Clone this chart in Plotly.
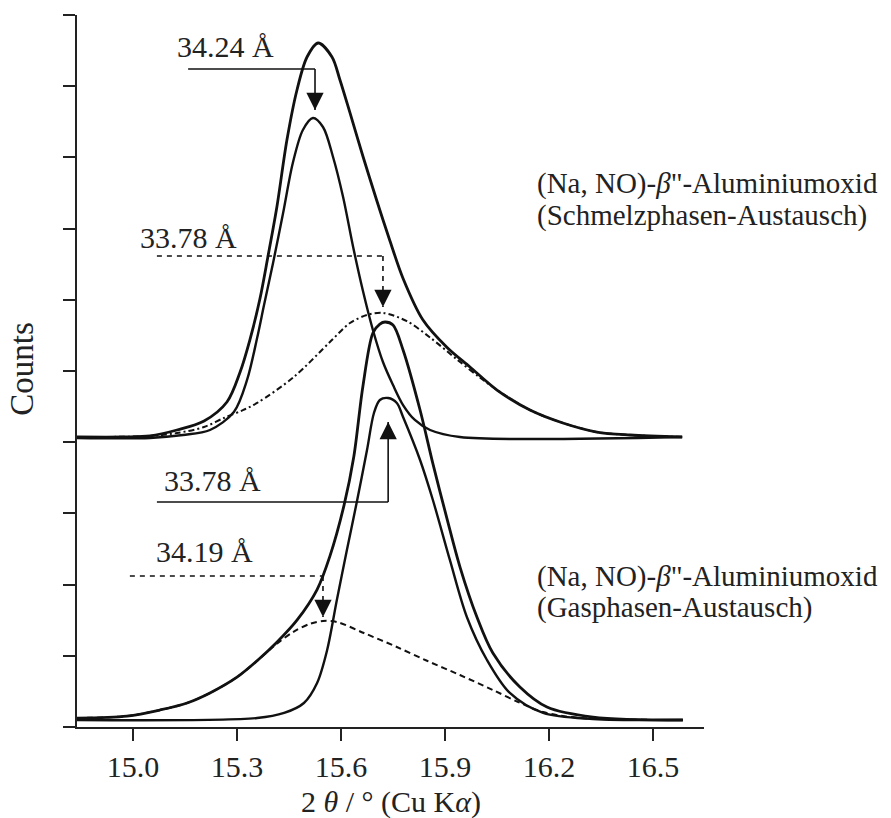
import plotly.graph_objects as go

# ---------------- data ----------------
# 2θ in degrees, counts in arbitrary units (one y tick = 1 unit)

# Upper pattern: (Na, NO)-β"-Aluminiumoxid (Schmelzphasen-Austausch)
up_env_x = [14.838, 14.974, 15.049, 15.127, 15.205, 15.271, 15.309, 15.337, 15.366, 15.389,
            15.415, 15.444, 15.473, 15.502, 15.534, 15.574, 15.597, 15.626, 15.663, 15.704,
            15.741, 15.779, 15.836, 15.906, 15.972, 16.050, 16.145, 16.240, 16.338, 16.434, 16.584]
up_env_y = [4.073, 4.073, 4.087, 4.171, 4.298, 4.565, 4.986, 5.435, 6.011, 6.601,
            7.303, 8.244, 8.947, 9.410, 9.607, 9.410, 9.087, 8.624, 8.020, 7.380,
            6.830, 6.300, 5.720, 5.330, 5.056, 4.733, 4.452, 4.270, 4.143, 4.101, 4.073]

up_main_x = [14.838, 15.049, 15.144, 15.222, 15.291, 15.329, 15.358, 15.378, 15.404, 15.433,
             15.461, 15.490, 15.519, 15.548, 15.577, 15.606, 15.635, 15.663, 15.692, 15.721,
             15.750, 15.779, 15.813, 15.857, 15.943, 16.584]
up_main_y = [4.059, 4.059, 4.101, 4.171, 4.424, 4.874, 5.463, 5.927, 6.517, 7.219,
             7.921, 8.385, 8.553, 8.427, 8.006, 7.444, 6.742, 6.130, 5.576, 5.126,
             4.803, 4.522, 4.312, 4.171, 4.073, 4.073]

up_broad_x = [14.838, 15.049, 15.127, 15.205, 15.262, 15.317, 15.358, 15.464, 15.568, 15.626,
              15.675, 15.721, 15.790, 15.857, 15.935, 16.000, 16.050, 16.145, 16.240, 16.338,
              16.434, 16.584]
up_broad_y = [4.073, 4.087, 4.129, 4.213, 4.340, 4.450, 4.551, 4.916, 5.407, 5.674,
              5.787, 5.815, 5.700, 5.470, 5.160, 4.910, 4.733, 4.452, 4.270, 4.143,
              4.101, 4.073]

# Lower pattern: (Na, NO)-β"-Aluminiumoxid (Gasphasen-Austausch)
lo_env_x = [14.838, 14.983, 15.078, 15.156, 15.222, 15.300, 15.358, 15.415, 15.473, 15.531,
            15.568, 15.609, 15.637, 15.663, 15.692, 15.712, 15.727, 15.750, 15.779, 15.828,
            15.865, 15.906, 15.943, 15.992, 16.038, 16.116, 16.194, 16.327, 16.586]
lo_env_y = [0.126, 0.154, 0.239, 0.337, 0.478, 0.700, 0.930, 1.190, 1.500, 1.930,
            2.400, 3.120, 3.800, 4.780, 5.534, 5.660, 5.688, 5.646, 5.295, 4.452,
            3.700, 2.920, 2.250, 1.545, 1.039, 0.562, 0.281, 0.140, 0.098]

lo_main_x = [14.838, 15.358, 15.436, 15.493, 15.531, 15.560, 15.588, 15.617, 15.646, 15.675,
             15.695, 15.712, 15.736, 15.761, 15.779, 15.828, 15.865, 15.914, 15.963, 16.021,
             16.087, 16.183, 16.327, 16.586]
lo_main_y = [0.098, 0.126, 0.197, 0.337, 0.618, 1.081, 1.784, 2.486, 3.170, 3.890,
             4.410, 4.593, 4.621, 4.551, 4.354, 3.750, 3.188, 2.346, 1.545, 0.941,
             0.478, 0.197, 0.112, 0.098]

lo_broad_x = [14.838, 14.983, 15.078, 15.156, 15.222, 15.300, 15.358, 15.415, 15.464, 15.511,
              15.548, 15.588, 15.666, 15.761, 15.848, 15.943, 16.038, 16.116, 16.183, 16.281,
              16.586]
lo_broad_y = [0.126, 0.154, 0.239, 0.337, 0.478, 0.700, 0.930, 1.170, 1.340, 1.450,
              1.489, 1.475, 1.320, 1.124, 0.930, 0.730, 0.520, 0.340, 0.210, 0.130,
              0.098]

# d-spacing markers
ann_text = ["34.24 Å", "33.78 Å", "33.78 Å", "34.19 Å"]
ann_line_x0 = [15.159, 15.069, 15.069, 14.991]
ann_line_x1 = [15.525, 15.721, 15.736, 15.548]
ann_line_y = [9.242, 6.615, 3.160, 2.121]
ann_tip_y = [8.666, 5.899, 4.284, 1.545]
ann_dash = ["solid", "dash", "solid", "dash"]
ann_text_x = [15.268, 15.159, 15.228, 15.205]
ann_text_y = [9.551, 6.882, 3.469, 2.458]

# sample labels
label_lines = [['(Na, NO)-<i>β</i>"-Aluminiumoxid', '(Schmelzphasen-Austausch)'],
               ['(Na, NO)-<i>β</i>"-Aluminiumoxid', '(Gasphasen-Austausch)']]
label_x = 16.160
label_y = [[7.640, 7.191], [2.107, 1.685]]

x_ticks = [15.0, 15.3, 15.6, 15.9, 16.2, 16.5]
x_tick_text = ["15.0", "15.3", "15.6", "15.9", "16.2", "16.5"]
y_ticks = list(range(0, 11))

# ---------------- figure ----------------
FONT = "Liberation Serif, Times New Roman, serif"
INK = "#111111"
TXT = "#222222"

fig = go.Figure()

def add_curve(x, y, width, dash="solid"):
    fig.add_trace(go.Scatter(
        x=x, y=y, mode="lines",
        line=dict(color=INK, width=width, dash=dash, shape="spline", smoothing=0.9),
        hoverinfo="skip", showlegend=False))

add_curve(up_broad_x, up_broad_y, 2.0, "6px,3px,2px,3px")
add_curve(lo_broad_x, lo_broad_y, 2.0, "6px,4px")
add_curve(up_main_x, up_main_y, 2.4)
add_curve(lo_main_x, lo_main_y, 2.4)
add_curve(up_env_x, up_env_y, 2.8)
add_curve(lo_env_x, lo_env_y, 2.8)

for i in range(len(ann_text)):
    d = "solid" if ann_dash[i] == "solid" else "5px,5px"
    fig.add_shape(type="line", x0=ann_line_x0[i], x1=ann_line_x1[i],
                  y0=ann_line_y[i], y1=ann_line_y[i],
                  line=dict(color=INK, width=1.6, dash=d))
    fig.add_shape(type="line", x0=ann_line_x1[i], x1=ann_line_x1[i],
                  y0=ann_line_y[i], y1=ann_tip_y[i],
                  line=dict(color=INK, width=1.6, dash=d))
    down = ann_tip_y[i] < ann_line_y[i]
    fig.add_annotation(x=ann_line_x1[i], y=ann_tip_y[i], text="", showarrow=True,
                       ax=0, ay=-15 if down else 15, arrowhead=2, arrowsize=2.3,
                       arrowwidth=1.5, arrowcolor=INK, standoff=0)
    fig.add_annotation(x=ann_text_x[i], y=ann_text_y[i], text=ann_text[i],
                       showarrow=False, xanchor="center", yanchor="middle",
                       font=dict(family=FONT, size=30, color=TXT))

for lines, ys in zip(label_lines, label_y):
    for t, yv in zip(lines, ys):
        fig.add_annotation(x=label_x, y=yv, text=t, showarrow=False,
                           xanchor="left", yanchor="middle",
                           font=dict(family=FONT, size=29, color=TXT))

fig.add_annotation(xref="paper", yref="paper", x=-0.088, y=0.503, text="Counts",
                   textangle=-90, showarrow=False, xanchor="center", yanchor="middle",
                   font=dict(family=FONT, size=33, color=TXT))
fig.add_annotation(xref="paper", yref="paper", x=0.5, y=-0.105,
                   text="2 <i>θ</i> / ° (Cu K<i>α</i>)",
                   showarrow=False, xanchor="center", yanchor="middle",
                   font=dict(family=FONT, size=30, color=TXT))

fig.update_layout(
    width=891, height=818,
    margin=dict(l=77, r=187, t=15, b=91),
    paper_bgcolor="white", plot_bgcolor="white",
    showlegend=False,
)
fig.update_xaxes(range=[14.8385, 16.647], tickvals=x_ticks, ticktext=x_tick_text,
                 ticks="outside", ticklen=12, tickwidth=2, tickcolor=TXT,
                 showline=True, linewidth=2, linecolor=TXT,
                 showgrid=False, zeroline=False,
                 tickfont=dict(family=FONT, size=30, color=TXT))
fig.update_yaxes(range=[0, 10], tickvals=y_ticks, showticklabels=False,
                 ticks="outside", ticklen=12, tickwidth=2, tickcolor=TXT,
                 showline=True, linewidth=2, linecolor=TXT,
                 showgrid=False, zeroline=False)

fig.write_html("out.html")
